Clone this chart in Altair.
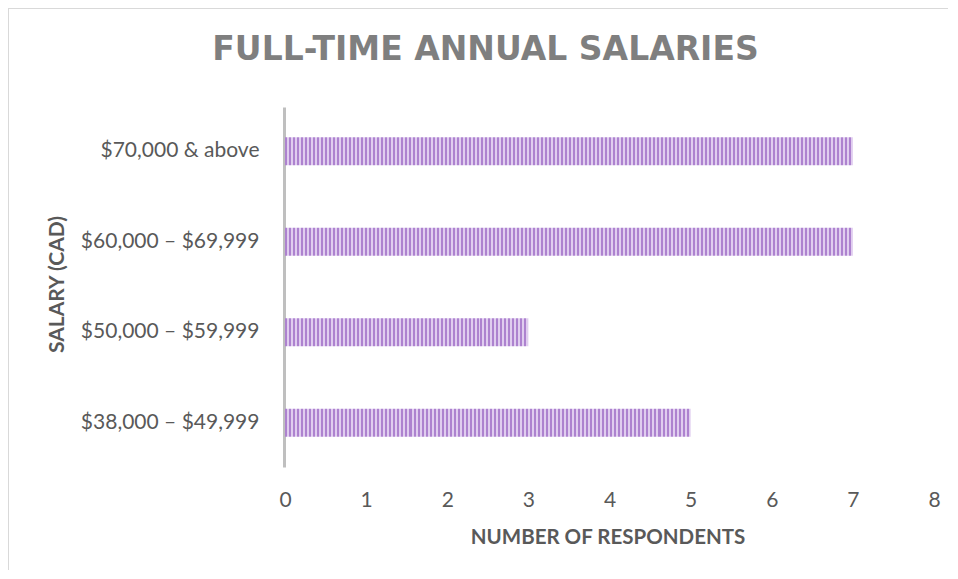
import altair as alt
import pandas as pd

# ---- data ----
salary_ranges = ["$70,000 & above", "$60,000 – $69,999", "$50,000 – $59,999", "$38,000 – $49,999"]
respondents = [7, 7, 3, 5]
x_ticks = [0, 1, 2, 3, 4, 5, 6, 7, 8]

df = pd.DataFrame({"salary": salary_ranges, "count": respondents})

# ---- style ----
W, H = 649, 360
PAD = {"left": 277, "top": 99, "right": 14, "bottom": 103}
DARK, LIGHT = "#ad82cf", "#e0cdef"
px_per_unit = W / 8.0


def stripes(value, period=4.0):
    n = max(1, int(round(value * px_per_unit / period)))
    stops = []
    for i in range(n):
        a, m, b = i / n, (i + 0.5) / n, (i + 1) / n
        stops += [
            {"offset": a, "color": DARK},
            {"offset": m, "color": DARK},
            {"offset": m, "color": LIGHT},
            {"offset": b, "color": LIGHT},
        ]
    return {"gradient": "linear", "x1": 0, "x2": 1, "y1": 0, "y2": 0, "stops": stops}


uniq = sorted(set(respondents))
fill = alt.when(alt.datum["count"] == uniq[0]).then(alt.value(stripes(uniq[0])))
for v in uniq[1:-1]:
    fill = fill.when(alt.datum["count"] == v).then(alt.value(stripes(v)))
fill = fill.otherwise(alt.value(stripes(uniq[-1])))

bars = alt.Chart(df).mark_bar().encode(
    x=alt.X(
        "count:Q",
        scale=alt.Scale(domain=[0, 8]),
        axis=alt.Axis(
            values=x_ticks,
            title="NUMBER OF RESPONDENTS",
            grid=False,
            domain=False,
            ticks=False,
            labelFlush=False,
            labelFont="Lato",
            labelFontSize=21,
            labelColor="#595959",
            labelPadding=22,
            titleFont="Lato",
            titleFontSize=20.5,
            titleFontWeight="bold",
            titleColor="#595959",
            titleX=W / 2 - 2,
            titleY=70,
            titleBaseline="middle",
            titleAlign="center",
        ),
    ),
    y=alt.Y(
        "salary:N",
        sort=salary_ranges,
        scale=alt.Scale(paddingInner=0.69, paddingOuter=0.334),
        axis=alt.Axis(
            title="SALARY (CAD)",
            ticks=False,
            grid=False,
            domainColor="#bfbfbf",
            domainWidth=3,
            offset=1,
            labelFont="Lato",
            labelFontSize=21,
            labelColor="#595959",
            labelPadding=25,
            titleFont="Lato",
            titleFontSize=21,
            titleFontWeight="bold",
            titleColor="#595959",
            titleAngle=270,
            titleX=-227,
            titleY=H / 2 - 3,
            titleAlign="center",
            titleBaseline="middle",
        ),
    ),
    fill=fill,
)

frame_data = alt.Data(values=[{}])
top_edge = alt.Chart(frame_data).mark_rule(stroke="#d9d9d9", strokeWidth=1).encode(
    x=alt.value(-PAD["left"] + 0.5),
    x2=alt.value(W + PAD["right"]),
    y=alt.value(-PAD["top"] + 0.5),
)
left_edge = alt.Chart(frame_data).mark_rule(stroke="#d9d9d9", strokeWidth=1).encode(
    x=alt.value(-PAD["left"] + 0.5),
    y=alt.value(-PAD["top"]),
    y2=alt.value(H + PAD["bottom"]),
)

chart = alt.layer(top_edge, left_edge, bars).properties(
    width=W,
    height=H,
    padding=PAD,
    autosize=alt.AutoSizeParams(type="none"),
    title=alt.TitleParams(
        "FULL-TIME ANNUAL SALARIES",
        font="DejaVu Sans",
        fontSize=33,
        fontWeight="bold",
        color="#7f7f7f",
        anchor="middle",
        dx=-124,
        dy=85,
        offset=0,
        baseline="alphabetic",
    ),
).configure_view(stroke=None)

chart.save("out.html", embed_options={"renderer": "svg", "actions": False})
